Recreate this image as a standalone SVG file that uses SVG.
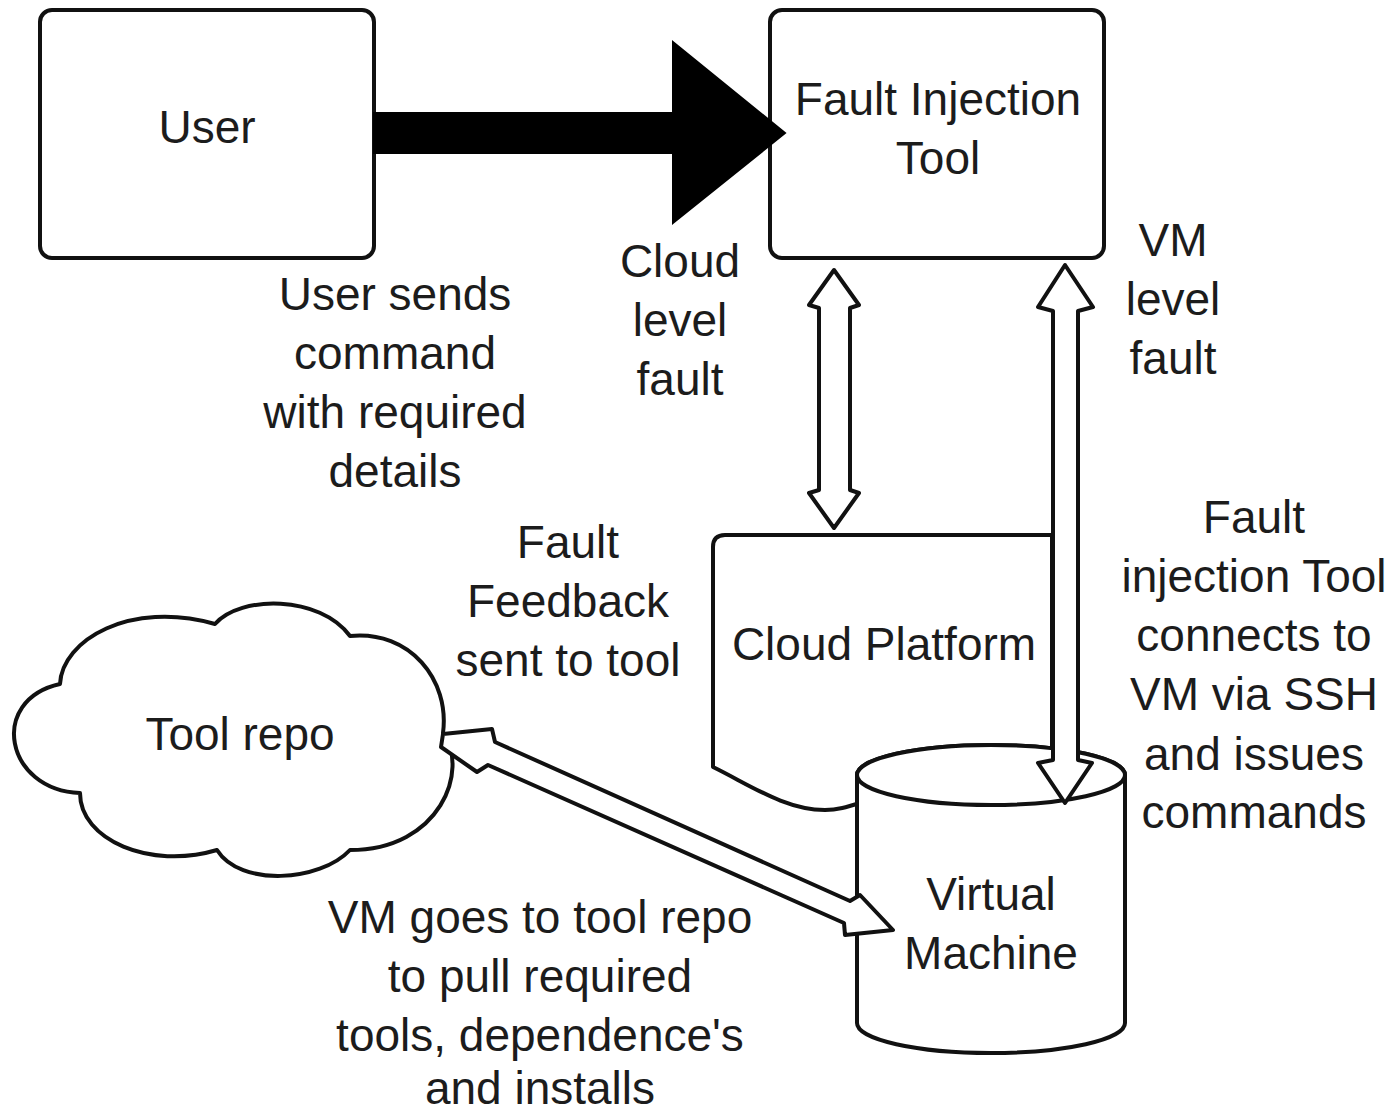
<svg xmlns="http://www.w3.org/2000/svg" width="1397" height="1114" viewBox="0 0 1397 1114">
<style>
.shape{fill:#fff;stroke:#111;stroke-width:4;stroke-linejoin:round}
.t{font-family:"Liberation Sans",Arial,sans-serif;font-size:46px;fill:#1c1c1c;text-anchor:middle}
</style>
<rect width="1397" height="1114" fill="#fff"/>
<g id="user">
<rect class="shape" x="40" y="10" width="334" height="248" rx="12"/>
<text class="t" x="207" y="143">User</text>
</g>
<g id="fault-injection-tool">
<rect class="shape" x="770" y="10" width="334" height="248" rx="12"/>
<text class="t" x="938" y="115">Fault Injection</text>
<text class="t" x="938" y="174">Tool</text>
</g>
<g id="cloud-platform">
<path class="shape" d="M713,767 L713,547 Q713,535 725,535 L1052,535 L1052,800 L870,800 C850,806 840,810 825,810 C785,810 750,785 713,767 Z"/>
<text class="t" x="884" y="660">Cloud Platform</text>
</g>
<g id="virtual-machine">
<path class="shape" d="M857,775 L857,1023 A134,30 0 0 0 1125,1023 L1125,775 A134,30 0 0 0 857,775 Z"/>
<ellipse class="shape" cx="991" cy="775" rx="134" ry="30"/>
<text class="t" x="991" y="910">Virtual</text>
<text class="t" x="991" y="969">Machine</text>
</g>
<g id="tool-repo">
<path class="shape" d="M60,684 C62,640 130,600 215,624 C240,595 320,595 350,636 C410,630 450,680 443,733 C470,770 440,850 350,850 C320,882 240,887 217,850 C150,870 80,840 80,793 C5,790 -12,700 60,684 Z"/>
<text class="t" x="240" y="750">Tool repo</text>
</g>
<g id="connectors">
<path d="M374,113 L673,113 L673,42 L785,133 L673,223 L673,153 L374,153 Z" fill="#000" stroke="#000" stroke-width="2" stroke-linejoin="miter"/>
<polygon class="shape" points="834,270 859,305 850,308 850,490 859,493 834,528 809,493 819,490 819,308 809,305"/>
<polygon class="shape" points="1065,265 1093,307 1078,311 1078,760 1092,763 1065,803 1038,763 1053,760 1053,311 1038,307"/>
<polygon class="shape" points="443,734 492,729 495,742 850,901 860,895 893,930 845,935 844,923 488,765 477,772 441,747"/>
</g>
<g id="labels">
<text class="t" x="395" y="310">User sends</text>
<text class="t" x="395" y="369">command</text>
<text class="t" x="395" y="428">with required</text>
<text class="t" x="395" y="487">details</text>
<text class="t" x="680" y="277">Cloud</text>
<text class="t" x="680" y="336">level</text>
<text class="t" x="680" y="395">fault</text>
<text class="t" x="1173" y="256">VM</text>
<text class="t" x="1173" y="315">level</text>
<text class="t" x="1173" y="374">fault</text>
<text class="t" x="568" y="558">Fault</text>
<text class="t" x="568" y="617">Feedback</text>
<text class="t" x="568" y="676">sent to tool</text>
<text class="t" x="1254" y="533">Fault</text>
<text class="t" x="1254" y="592">injection Tool</text>
<text class="t" x="1254" y="651">connects to</text>
<text class="t" x="1254" y="710">VM via SSH</text>
<text class="t" x="1254" y="770">and issues</text>
<text class="t" x="1254" y="828">commands</text>
<text class="t" x="540" y="933">VM goes to tool repo</text>
<text class="t" x="540" y="992">to pull required</text>
<text class="t" x="540" y="1051">tools, dependence's</text>
<text class="t" x="540" y="1104">and installs</text>
</g>
</svg>
